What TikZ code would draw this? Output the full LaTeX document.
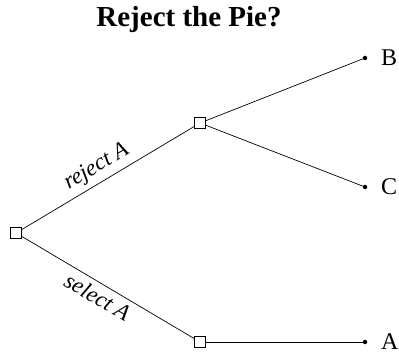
\documentclass[tikz,border=0pt]{standalone}
\usepackage{fontspec}
\setmainfont{Liberation Serif}
\begin{document}
\begin{tikzpicture}[x=1pt,y=-1pt,
  decision/.style={draw,fill=white,rectangle,minimum size=11pt,inner sep=0pt,line width=0.7pt},
  leaf/.style={circle,fill=black,inner sep=0pt,minimum size=4.5pt},
  leaflabel/.style={anchor=west,inner sep=0pt,font=\fontsize{24}{29}\selectfont},
  branchlabel/.style={font=\fontsize{23}{27}\selectfont\itshape,sloped},
  edge/.style={line width=0.7pt}]
\useasboundingbox (0,0) rectangle (399,358);
\node[font=\fontsize{29}{34}\selectfont\bfseries] (title) at (189,20) {Reject the Pie?};
\node[decision] (root) at (16,233) {};
\node[decision] (up) at (200,123) {};
\node[decision] (low) at (200,342) {};
\node[leaf] (b) at (365,58) {};
\node[leaf] (c) at (365,187) {};
\node[leaf] (a) at (365,342) {};
\node[leaflabel] (lb) at ([xshift=16pt]b.center) {B};
\node[leaflabel] (lc) at ([xshift=16pt]c.center) {C};
\node[leaflabel] (la) at ([xshift=16pt]a.center) {A};
\draw[edge] (root) -- node[branchlabel,above=1.5pt,pos=0.48] {reject A} (up);
\draw[edge] (root) -- node[branchlabel,below=1.5pt,pos=0.48] {select A} (low);
\draw[edge] (up) -- (b);
\draw[edge] (up) -- (c);
\draw[edge] (low) -- (a);
\end{tikzpicture}
\end{document}
